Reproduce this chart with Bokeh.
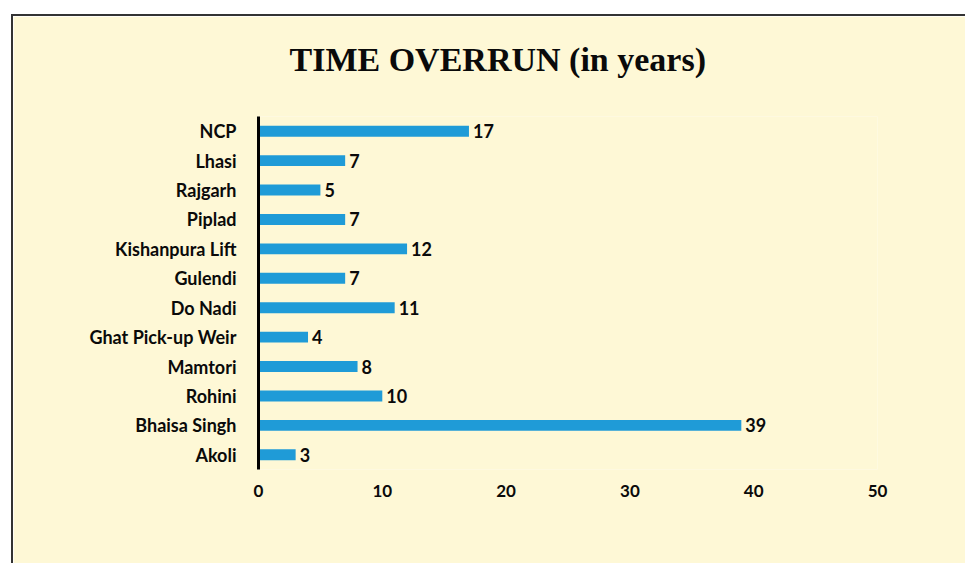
from bokeh.plotting import figure
from bokeh.models import ColumnDataSource, FixedTicker, Title
from bokeh.core.properties import value
from bokeh.embed import file_html
from bokeh.resources import INLINE

projects = ["NCP", "Lhasi", "Rajgarh", "Piplad", "Kishanpura Lift", "Gulendi",
            "Do Nadi", "Ghat Pick-up Weir", "Mamtori", "Rohini", "Bhaisa Singh", "Akoli"]
overrun = [17, 7, 5, 7, 12, 7, 11, 4, 8, 10, 39, 3]
x_ticks = [0, 10, 20, 30, 40, 50]
title_text = "TIME OVERRUN (in years)"

BG = "#FEF8D6"
BAR = "#1F9BD7"

src = ColumnDataSource(dict(project=projects, overrun=overrun,
                            label=[str(v) for v in overrun]))

p = figure(width=954, height=549, output_backend="svg", toolbar_location=None,
           y_range=list(reversed(projects)), x_range=(0, 50),
           min_border_left=245, min_border_right=90, min_border_top=100,
           min_border_bottom=96)
p.styles = {"margin-left": "11px", "margin-top": "14px",
            "border-left": "2px solid #333", "border-top": "2px solid #333"}
p.background_fill_color = BG
p.border_fill_color = BG
p.outline_line_color = None
p.grid.grid_line_color = None

p.hbar(y="project", right="overrun", left=0, height=0.37, source=src,
       fill_color=BAR, line_color=None)
p.text(x="overrun", y="project", text="label", source=src, x_offset=4,
       text_baseline="middle", text_align="left",
       text_font=value("Lato"), text_font_style="bold", text_font_size="18px",
       text_color="#0A0A0A")

# spacer between the title and the plot area
p.add_layout(Title(text=" ", text_font_size="1px", standoff=14), "above")
p.add_layout(Title(text=title_text, align="left", offset=31, standoff=44,
                   text_font="Liberation Serif", text_font_style="bold",
                   text_font_size="34px", text_color="#0A0A0A"), "above")

xa = p.xaxis[0]
xa.ticker = FixedTicker(ticks=x_ticks)
xa.axis_line_color = None
xa.major_tick_line_color = None
xa.minor_tick_line_color = None
xa.major_label_standoff = 9
xa.major_label_text_font = "Lato"
xa.major_label_text_font_style = "bold"
xa.major_label_text_font_size = "17px"
xa.major_label_text_color = "#0A0A0A"

ya = p.yaxis[0]
ya.axis_line_color = "#000000"
ya.axis_line_width = 3
ya.major_tick_line_color = None
ya.minor_tick_line_color = None
ya.major_label_standoff = 16
ya.major_label_text_font = "Lato"
ya.major_label_text_font_style = "bold"
ya.major_label_text_font_size = "18px"
ya.major_label_text_color = "#0A0A0A"

open("out.html", "w").write(file_html(p, INLINE))
